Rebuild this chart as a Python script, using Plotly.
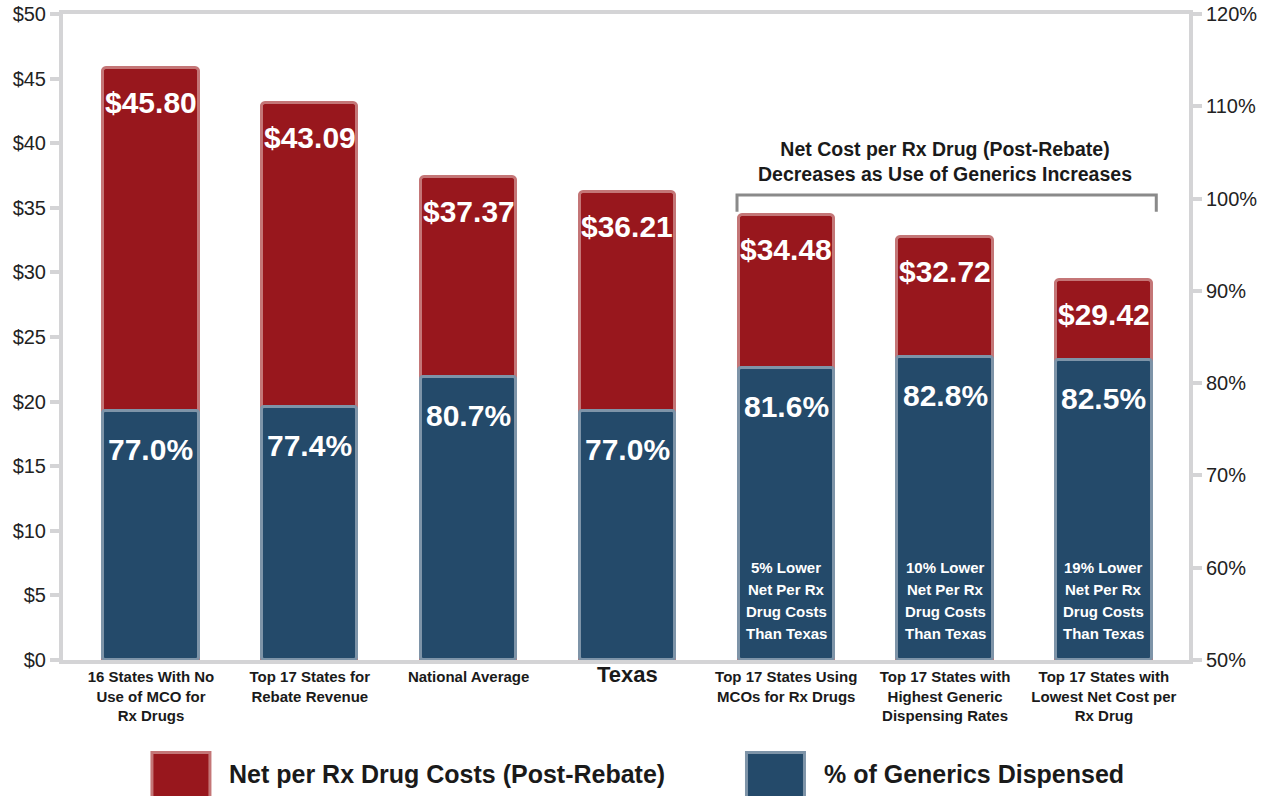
import plotly.graph_objects as go

# ---- data ----
categories = [
    "16 States With No<br>Use of MCO for<br>Rx Drugs",
    "Top 17 States for<br>Rebate Revenue",
    "National Average",
    "<span style='font-size:22px'>Texas</span>",
    "Top 17 States Using<br>MCOs for Rx Drugs",
    "Top 17 States with<br>Highest Generic<br>Dispensing Rates",
    "Top 17 States with<br>Lowest Net Cost per<br>Rx Drug",
]
net_cost = [45.80, 43.09, 37.37, 36.21, 34.48, 32.72, 29.42]
generic_pct = [77.0, 77.4, 80.7, 77.0, 81.6, 82.8, 82.5]
savings_notes = ["", "", "", "",
                 "5% Lower<br>Net Per Rx<br>Drug Costs<br>Than Texas",
                 "10% Lower<br>Net Per Rx<br>Drug Costs<br>Than Texas",
                 "19% Lower<br>Net Per Rx<br>Drug Costs<br>Than Texas"]
series_names = ["Net per Rx Drug Costs (Post-Rebate)", "% of Generics Dispensed"]
bracket_text = "Net Cost per Rx Drug (Post-Rebate)<br>Decreases as Use of Generics Increases"
bracket_span = [4, 6]

RED = "#98171d"
RED_EDGE = "#c47677"
BLUE = "#244a6a"
BLUE_EDGE = "#7e94a8"
AXIS = "#d4d4d6"
FONT = "Liberation Sans, Arial, sans-serif"

xs = list(range(len(categories)))
fig = go.Figure()

fig.add_trace(go.Bar(
    x=xs, y=net_cost, yaxis="y", name=series_names[0], width=0.6,
    marker=dict(color=RED, line=dict(color=RED_EDGE, width=3), cornerradius=4),
    showlegend=False, hoverinfo="skip",
))
fig.add_trace(go.Bar(
    x=xs, y=[p - 50 for p in generic_pct], base=[50] * len(xs), yaxis="y2",
    name=series_names[1], width=0.6,
    marker=dict(color=BLUE, line=dict(color=BLUE_EDGE, width=3), cornerradius=3),
    showlegend=False, hoverinfo="skip",
))

ann = []
for i, v in enumerate(net_cost):
    ann.append(dict(x=i, y=v, xref="x", yref="y", text=f"<b>${v:.2f}</b>",
                    showarrow=False, yanchor="top", yshift=-16,
                    font=dict(family=FONT, size=30, color="white")))
for i, p in enumerate(generic_pct):
    ann.append(dict(x=i, y=p, xref="x", yref="y2", text=f"<b>{p:.1f}%</b>",
                    showarrow=False, yanchor="top", yshift=-20,
                    font=dict(family=FONT, size=30, color="white")))
LINE_STEP = 22
for i, t in enumerate(savings_notes):
    if t:
        lines = t.split("<br>")
        n = len(lines)
        for j, ln in enumerate(lines):
            ann.append(dict(x=i, y=50, xref="x", yref="y2", text=f"<b>{ln}</b>",
                            showarrow=False, yanchor="bottom",
                            yshift=16 + (n - 1 - j) * LINE_STEP, align="center",
                            font=dict(family=FONT, size=15, color="white")))

# bracket annotation
bx0 = bracket_span[0] - 0.31
bx1 = bracket_span[1] + 0.33
fig.add_shape(type="path", xref="x", yref="y",
              path=f"M {bx0},34.7 L {bx0},36.0 L {bx1},36.0 L {bx1},34.7",
              line=dict(color="#8a8a8a", width=3))
ann.append(dict(x=(bracket_span[0] + bracket_span[1]) / 2, y=36.0, xref="x", yref="y",
                text=f"<b>{bracket_text}</b>", showarrow=False, yanchor="bottom",
                yshift=8, align="center",
                font=dict(family=FONT, size=19.5, color="#1a1a1a")))

# custom legend
legend_items = [(series_names[0], RED, RED_EDGE, 0.079), (series_names[1], BLUE, BLUE_EDGE, 0.607)]
for name, col, edge, lx in legend_items:
    fig.add_shape(type="rect", xref="paper", yref="paper",
                  x0=lx, x1=lx + 0.0515, y0=-0.215, y1=-0.143,
                  fillcolor=col, line=dict(color=edge, width=3))
    ann.append(dict(x=lx + 0.067, y=-0.176, xref="paper", yref="paper",
                    text=f"<b>{name}</b>", showarrow=False, xanchor="left", yanchor="middle",
                    font=dict(family=FONT, size=25, color="#1a1a1a")))

fig.update_layout(
    width=1270, height=796,
    margin=dict(l=63, r=81, t=14, b=136, autoexpand=False),
    paper_bgcolor="white", plot_bgcolor="white",
    barmode="overlay", bargap=0,
    annotations=ann,
    xaxis=dict(
        range=[-0.554, 6.536], tickvals=xs, ticktext=[f"<b>{c}</b>" for c in categories],
        showgrid=False, zeroline=False, showline=True, mirror=True, tickangle=0,
        linecolor=AXIS, linewidth=4, ticks="", automargin=False,
        tickfont=dict(family=FONT, size=15, color="#1a1a1a"),
    ),
    yaxis=dict(
        range=[0, 50], dtick=5, tickprefix="$", showgrid=False, zeroline=False,
        showline=True, linecolor=AXIS, linewidth=4, automargin=False,
        ticks="outside", ticklen=9, tickwidth=4, tickcolor=AXIS,
        tickfont=dict(family=FONT, size=20, color="#222"),
    ),
    yaxis2=dict(
        range=[50, 120], dtick=10, ticksuffix="%", overlaying="y", side="right",
        showgrid=False, zeroline=False, showline=True, linecolor=AXIS, linewidth=4,
        ticks="outside", ticklen=9, tickwidth=4, tickcolor=AXIS, automargin=False,
        tickfont=dict(family=FONT, size=20, color="#222"),
    ),
)

fig.write_html("out.html")
